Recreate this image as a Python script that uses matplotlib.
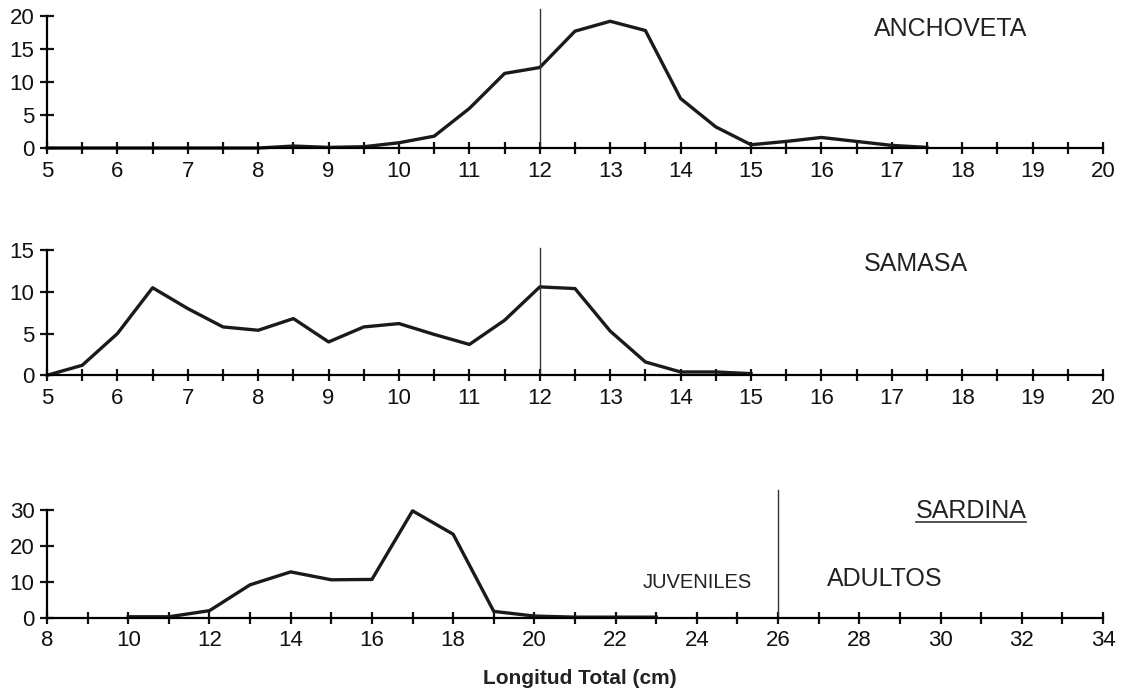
import numpy as np
import matplotlib
matplotlib.use("Agg")
import matplotlib.pyplot as plt
from matplotlib.lines import Line2D

plt.rcParams['font.family'] = ['Liberation Sans', 'DejaVu Sans']

# =========================
# DATA
# =========================

anch_x = [5, 5.5, 6, 6.5, 7, 7.5, 8, 8.5, 9, 9.5, 10, 10.5, 11, 11.5, 12,
          12.5, 13, 13.5, 14, 14.5, 15, 15.5, 16, 16.5, 17, 17.5]
anch_y = [0, 0, 0, 0, 0, 0, 0, 0.3, 0.1, 0.2, 0.8, 1.8, 6.0, 11.3, 12.2,
          17.7, 19.2, 17.8, 7.5, 3.2, 0.5, 1.0, 1.6, 1.0, 0.4, 0.1]

sam_x = [5, 5.5, 6, 6.5, 7, 7.5, 8, 8.5, 9, 9.5, 10, 10.5, 11, 11.5, 12,
         12.5, 13, 13.5, 14, 14.5, 15]
sam_y = [0, 1.2, 5.0, 10.5, 8.0, 5.8, 5.4, 6.8, 4.0, 5.8, 6.2, 4.9, 3.7,
         6.6, 10.6, 10.4, 5.3, 1.6, 0.4, 0.4, 0.2]

sard_x = [10, 11, 12, 13, 14, 15, 16, 17, 18, 19, 20, 21, 22, 23]
sard_y = [0.3, 0.3, 2.0, 9.2, 12.8, 10.6, 10.7, 29.8, 23.3, 1.8, 0.5,
          0.2, 0.2, 0.2]

W, H = 1127, 695
fig = plt.figure(figsize=(W / 100, H / 100), dpi=100)


def px(x, y):
    # pixel position -> figure fraction
    return x / W, 1 - y / H


left, width = 0.0417, 0.937
ax1 = fig.add_axes([left, 0.787, width, 0.190])
ax2 = fig.add_axes([left, 0.460, width, 0.180])
ax3 = fig.add_axes([left, 0.111, width, 0.155])


def style(ax):
    for s in ["top", "right"]:
        ax.spines[s].set_visible(False)
    ax.spines["left"].set_linewidth(1.6)
    ax.spines["bottom"].set_linewidth(1.6)
    ax.tick_params(axis="both", which="both", direction="inout",
                   width=1.6, labelsize=16, colors="#111111")
    ax.tick_params(axis="x", which="both", length=8, pad=5)
    ax.tick_params(axis="y", which="major", length=10, pad=4)
    ax.set_facecolor("none")


# Plot 1 - ANCHOVETA
ax1.plot(anch_x, anch_y, color="#1a1a1a", lw=2.4, clip_on=False)
ax1.set_xlim(5, 20)
ax1.set_ylim(0, 20)
ax1.set_xticks(np.arange(5, 21, 1))
ax1.set_xticks(np.arange(5.5, 20, 1), minor=True)
ax1.set_yticks([0, 5, 10, 15, 20])
ax1.plot([12, 12], [0, 21], color="#333333", lw=1.0, clip_on=False)
style(ax1)

# Plot 2 - SAMASA
ax2.plot(sam_x, sam_y, color="#1a1a1a", lw=2.4, clip_on=False)
ax2.set_xlim(5, 20)
ax2.set_ylim(0, 15)
ax2.set_xticks(np.arange(5, 21, 1))
ax2.set_xticks(np.arange(5.5, 20, 1), minor=True)
ax2.set_yticks([0, 5, 10, 15])
ax2.plot([12, 12], [0, 15.3], color="#333333", lw=1.0, clip_on=False)
style(ax2)

# Plot 3 - SARDINA
ax3.plot(sard_x, sard_y, color="#1a1a1a", lw=2.4, clip_on=False)
ax3.set_xlim(8, 34)
ax3.set_ylim(0, 30)
ax3.set_xticks(np.arange(8, 35, 2))
ax3.set_xticks(np.arange(9, 34, 2), minor=True)
ax3.set_yticks([0, 10, 20, 30])
ax3.plot([26, 26], [0, 35.5], color="#333333", lw=1.0, clip_on=False)
style(ax3)

# labels
fig.text(*px(951, 29), "ANCHOVETA", fontsize=18, ha="center", va="center",
         color="#222222")
fig.text(*px(916, 264), "SAMASA", fontsize=18, ha="center", va="center",
         color="#222222")
sard = fig.text(*px(971, 511), "SARDINA", fontsize=18, ha="center",
                va="center", color="#222222")
fig.text(*px(697, 582), "JUVENILES", fontsize=14.5, ha="center", va="center",
         color="#222222")
fig.text(*px(885, 579), "ADULTOS", fontsize=18, ha="center", va="center",
         color="#222222")
fig.text(*px(580, 678), "Longitud Total (cm)", fontsize=15,
         fontweight="bold", ha="center", va="center", color="#222222")

# underline SARDINA
fig.canvas.draw()
bb = sard.get_window_extent().transformed(fig.transFigure.inverted())
fig.add_artist(Line2D([bb.x0, bb.x1], [bb.y0 + 0.001, bb.y0 + 0.001],
                      color="#333333", lw=1.2, transform=fig.transFigure))

fig.savefig("out.png", dpi=100, facecolor="white")
